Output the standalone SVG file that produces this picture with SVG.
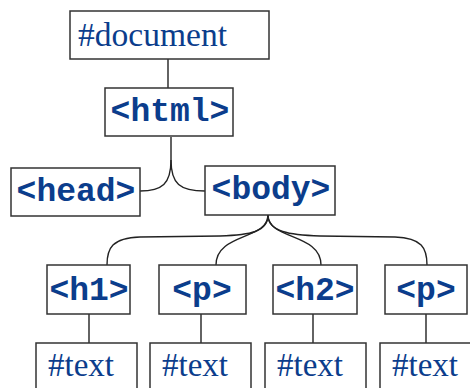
<svg xmlns="http://www.w3.org/2000/svg" width="470" height="388" viewBox="0 0 470 388">
<style>
.box{fill:#fff;stroke:#333;stroke-width:1.5}
.tag{font-family:"Liberation Mono",monospace;font-weight:bold;font-size:33px;fill:#0b3d8c;text-anchor:middle}
.txt{font-family:"Liberation Serif",serif;font-size:33px;fill:#0b3d8c}
.edge{fill:none;stroke:#222;stroke-width:1.4}
</style>
<rect width="470" height="388" fill="#fff"/>
<g id="connectors">
<path class="edge" d="M168,59 L168,88"/>
<path class="edge" d="M171,137 L171,160 C171,184 162,191 140,191"/>
<path class="edge" d="M171,160 C171,184 180,191 205,191"/>
<path class="edge" d="M268,215 C268,232 250,235 220,236 L140,237 C112,238 107,248 107,265"/>
<path class="edge" d="M268,215 C268,240 216,233 216,265"/>
<path class="edge" d="M268,215 C268,240 321,233 321,265"/>
<path class="edge" d="M268,215 C268,232 290,235 320,236 L395,237 C422,238 427,248 427,265"/>
<path class="edge" d="M89,314 L89,343"/>
<path class="edge" d="M201,314 L201,343"/>
<path class="edge" d="M313,314 L313,343"/>
<path class="edge" d="M426,314 L426,343"/>
</g>
<g id="document"><rect class="box" x="70" y="11" width="199" height="48"/><text class="txt" x="78" y="46" textLength="149" lengthAdjust="spacingAndGlyphs">#document</text></g>
<g id="html"><rect class="box" x="105" y="88" width="128" height="48"/><text class="tag" x="170" y="121">&lt;html&gt;</text></g>
<g id="head"><rect class="box" x="11" y="168" width="129" height="48"/><text class="tag" x="76" y="201">&lt;head&gt;</text></g>
<g id="body"><rect class="box" x="205" y="166" width="130" height="49"/><text class="tag" x="271" y="199">&lt;body&gt;</text></g>
<g id="h1"><rect class="box" x="47" y="265" width="83" height="49"/><text class="tag" x="89" y="300">&lt;h1&gt;</text></g>
<g id="p1"><rect class="box" x="159" y="265" width="87" height="49"/><text class="tag" x="202" y="300">&lt;p&gt;</text></g>
<g id="h2"><rect class="box" x="273" y="265" width="84" height="49"/><text class="tag" x="315" y="300">&lt;h2&gt;</text></g>
<g id="p2"><rect class="box" x="385" y="265" width="82" height="49"/><text class="tag" x="426" y="300">&lt;p&gt;</text></g>
<g id="text1"><rect class="box" x="36" y="343" width="101" height="60"/><text class="txt" x="48" y="376">#text</text></g>
<g id="text2"><rect class="box" x="150" y="343" width="101" height="60"/><text class="txt" x="162" y="376">#text</text></g>
<g id="text3"><rect class="box" x="265" y="343" width="101" height="60"/><text class="txt" x="277" y="376">#text</text></g>
<g id="text4"><rect class="box" x="380" y="343" width="101" height="60"/><text class="txt" x="392" y="376">#text</text></g>
</svg>
